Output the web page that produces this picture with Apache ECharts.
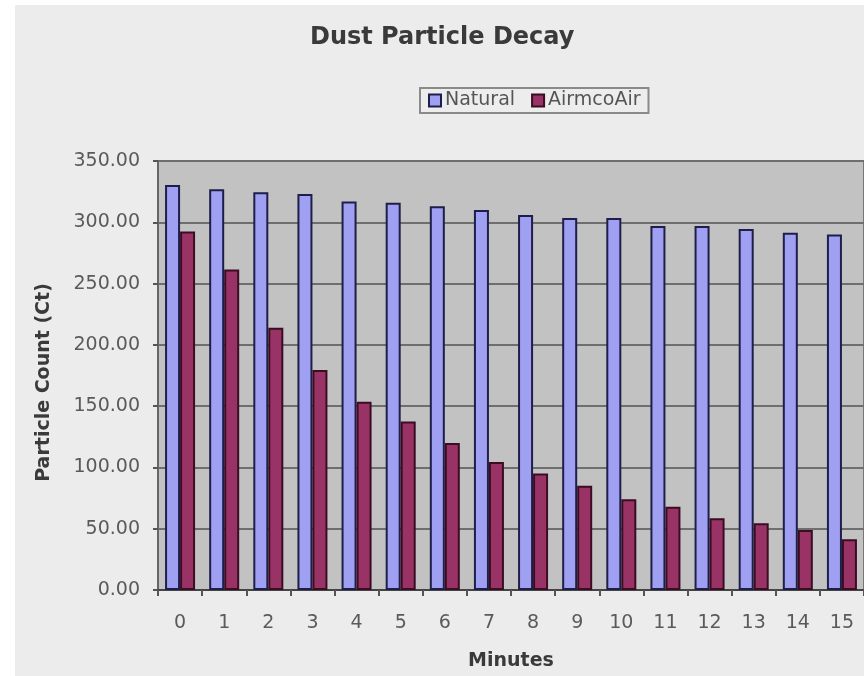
<!DOCTYPE html>
<html>
<head>
<meta charset="utf-8">
<script src="https://cdn.jsdelivr.net/npm/echarts@6/dist/echarts.min.js"></script>
<style>
html,body{margin:0;padding:0;background:#ffffff;}
#bg{position:absolute;left:15px;top:5px;width:849px;height:671px;background:#ececec;}
#chart{position:absolute;left:0;top:0;width:864px;height:676px;}
</style>
</head>
<body>
<div id="bg"></div>
<div id="chart"></div>
<script>
var minutes = ['0','1','2','3','4','5','6','7','8','9','10','11','12','13','14','15'];
var natural = [330.5, 327, 324.5, 323, 317, 316, 313, 310, 306, 303.5, 303.5, 297, 297, 294.5, 291.5, 290];
var airmcoAir = [292.5, 261.5, 214, 179.5, 153.5, 137.5, 120, 104.5, 95, 85, 74, 68, 58.5, 54.5, 49, 41.5];
var yTicks = [0, 50, 100, 150, 200, 250, 300, 350];

var chart = echarts.init(document.getElementById('chart'), null, {renderer: 'canvas'});
var font = 'DejaVu Sans';
chart.setOption({
  backgroundColor: 'transparent',
  animation: false,
  title: {
    text: 'Dust Particle Decay',
    left: 310, top: 26, padding: 0,
    textStyle: {fontFamily: font, fontSize: 24, fontWeight: 'bold', color: '#3a3a3a'}
  },
  legend: {
    data: ['Natural', 'AirmcoAir'],
    left: 420, top: 88,
    padding: [3, 8, 3, 8],
    itemWidth: 12, itemHeight: 12, itemGap: 16,
    borderColor: '#8a8a8a', borderWidth: 2,
    backgroundColor: '#ededed',
    icon: 'rect',
    textStyle: {fontFamily: font, fontSize: 19, color: '#555', padding: [0, 0, 0, -1]}
  },
  grid: {
    left: 158, right: -1, top: 161, bottom: 84,
    show: true, backgroundColor: '#c2c2c2', borderColor: '#777', borderWidth: 2
  },
  xAxis: {
    type: 'category',
    data: minutes,
    name: 'Minutes',
    nameLocation: 'middle',
    nameGap: 62,
    nameTextStyle: {fontFamily: font, fontSize: 19, fontWeight: 'bold', color: '#3a3a3a'},
    axisLine: {lineStyle: {color: '#444', width: 2}},
    axisTick: {show: true, length: 6, lineStyle: {color: '#555', width: 2}},
    axisLabel: {fontFamily: font, fontSize: 19, color: '#5a5a5a', margin: 24}
  },
  yAxis: {
    type: 'value',
    min: yTicks[0], max: yTicks[yTicks.length - 1], interval: 50,
    name: 'Particle Count (Ct)',
    nameLocation: 'middle',
    nameGap: 104,
    nameTextStyle: {fontFamily: font, fontSize: 19, fontWeight: 'bold', color: '#3a3a3a', padding: [0, 14, 0, 0]},
    axisLine: {show: true, lineStyle: {color: '#666', width: 2}},
    axisTick: {show: true, length: 5, lineStyle: {color: '#555', width: 2}},
    axisLabel: {fontFamily: font, fontSize: 19, color: '#5a5a5a', margin: 18,
      formatter: function (v) { return v.toFixed(2); }},
    splitLine: {lineStyle: {color: '#6e6e6e', width: 2}}
  },
  series: [
    {
      name: 'Natural', type: 'bar', data: natural,
      barWidth: 15, barGap: '0%',
      itemStyle: {color: '#a0a0f2', borderColor: '#1e1e4a', borderWidth: 2}
    },
    {
      name: 'AirmcoAir', type: 'bar', data: airmcoAir,
      barWidth: 15,
      itemStyle: {color: '#993366', borderColor: '#3a0d22', borderWidth: 2}
    }
  ]
});
</script>
</body>
</html>
